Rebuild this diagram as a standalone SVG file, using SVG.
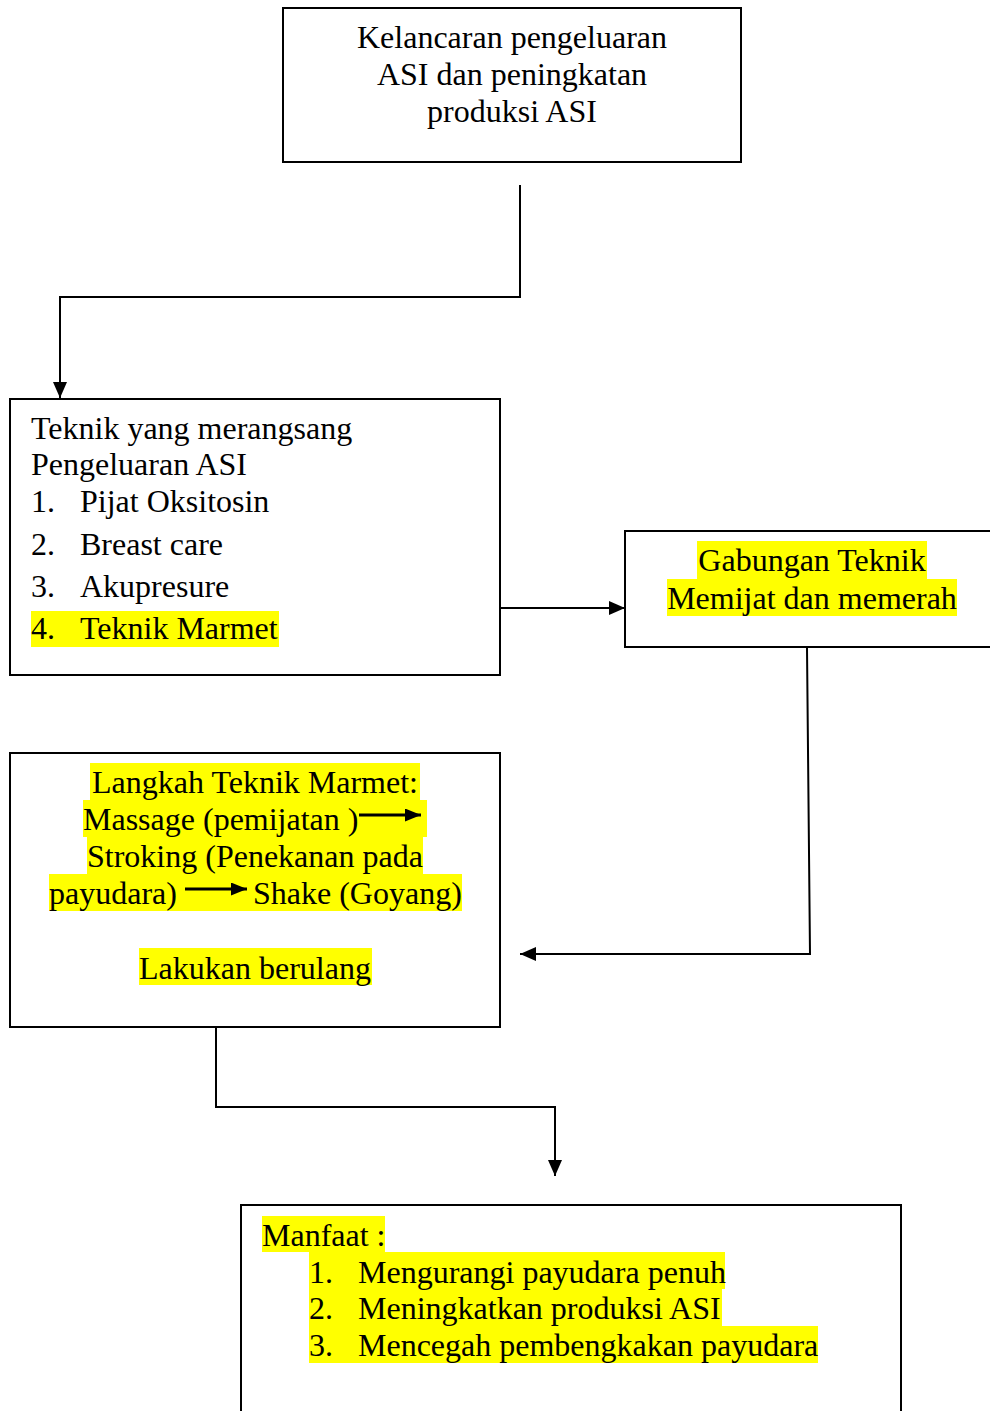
<svg xmlns="http://www.w3.org/2000/svg" width="990" height="1411" viewBox="0 0 990 1411">
<defs>
<marker id="ah" viewBox="0 0 16 14" refX="16" refY="7" markerWidth="16" markerHeight="14" markerUnits="userSpaceOnUse" orient="auto">
<path d="M0,0 L16,7 L0,14 Z" fill="#000"/>
</marker>
<marker id="ahs" viewBox="0 0 16 13" refX="16" refY="6.5" markerWidth="16" markerHeight="13" markerUnits="userSpaceOnUse" orient="auto">
<path d="M0,0 L16,6.5 L0,13 Z" fill="#000"/>
</marker>
<style>
.box{fill:#fff;stroke:#000;stroke-width:2}
.t{font-family:"Liberation Serif","Times New Roman",serif;font-size:32px;fill:#000}
.c{text-anchor:middle}
.hl{fill:#ffff00}
.con{fill:none;stroke:#000;stroke-width:2}
.inl{fill:none;stroke:#000;stroke-width:3}
</style>
</defs>
<rect width="990" height="1411" fill="#fff"/>

<g id="connectors">
<polyline class="con" points="520,185 520,297 60,297 60,398" marker-end="url(#ah)"/>
<line class="con" x1="500" y1="608" x2="625" y2="608" marker-end="url(#ah)"/>
<polyline class="con" points="807,648 810,954 520,954" marker-end="url(#ah)"/>
<polyline class="con" points="216,1027 216,1107 555,1107 555,1176" marker-end="url(#ah)"/>
</g>

<g id="node-top">
<rect class="box" x="283" y="8" width="458" height="154"/>
<text class="t c" x="512" y="48">Kelancaran pengeluaran</text>
<text class="t c" x="512" y="85">ASI dan peningkatan</text>
<text class="t c" x="512" y="122">produksi ASI</text>
</g>

<g id="node-teknik">
<rect class="box" x="10" y="399" width="490" height="276"/>
<rect class="hl" x="31" y="611" width="248" height="36"/>
<text class="t" x="31" y="439">Teknik yang merangsang</text>
<text class="t" x="31" y="475">Pengeluaran ASI</text>
<text class="t" x="31" y="512">1.</text><text class="t" x="80" y="512">Pijat Oksitosin</text>
<text class="t" x="31" y="555">2.</text><text class="t" x="80" y="555">Breast care</text>
<text class="t" x="31" y="597">3.</text><text class="t" x="80" y="597">Akupresure</text>
<text class="t" x="31" y="639">4.</text><text class="t" x="80" y="639">Teknik Marmet</text>
</g>

<g id="node-gabungan">
<rect class="box" x="625" y="531" width="380" height="116"/>
<rect class="hl" x="697" y="541" width="230" height="38"/>
<rect class="hl" x="667" y="579" width="290" height="37"/>
<text class="t c" x="812" y="571">Gabungan Teknik</text>
<text class="t c" x="812" y="609">Memijat dan memerah</text>
</g>

<g id="node-langkah">
<rect class="box" x="10" y="753" width="490" height="274"/>
<rect class="hl" x="90" y="763" width="330" height="37"/>
<rect class="hl" x="83" y="800" width="344" height="37"/>
<rect class="hl" x="87" y="837" width="336" height="37"/>
<rect class="hl" x="49" y="874" width="413" height="37"/>
<rect class="hl" x="139" y="948" width="233" height="37"/>
<text class="t c" x="255" y="793">Langkah Teknik Marmet:</text>
<text class="t" x="83" y="830">Massage (pemijatan )</text>
<line class="inl" x1="359" y1="815" x2="421" y2="815" marker-end="url(#ahs)"/>
<text class="t" x="87" y="867">Stroking (Penekanan pada</text>
<text class="t" x="49" y="904">payudara)</text>
<line class="inl" x1="185" y1="889" x2="247" y2="889" marker-end="url(#ahs)"/>
<text class="t" x="253" y="904">Shake (Goyang)</text>
<text class="t c" x="255" y="979">Lakukan berulang</text>
</g>

<g id="node-manfaat">
<rect class="box" x="241" y="1205" width="660" height="230"/>
<rect class="hl" x="262" y="1216" width="123" height="36"/>
<rect class="hl" x="309" y="1252" width="416" height="37"/>
<rect class="hl" x="309" y="1289" width="413" height="37"/>
<rect class="hl" x="309" y="1326" width="509" height="37"/>
<text class="t" x="262" y="1246">Manfaat :</text>
<text class="t" x="309" y="1283">1.</text><text class="t" x="358" y="1283">Mengurangi payudara penuh</text>
<text class="t" x="309" y="1319">2.</text><text class="t" x="358" y="1319">Meningkatkan produksi ASI</text>
<text class="t" x="309" y="1356">3.</text><text class="t" x="358" y="1356">Mencegah pembengkakan payudara</text>
</g>
</svg>
